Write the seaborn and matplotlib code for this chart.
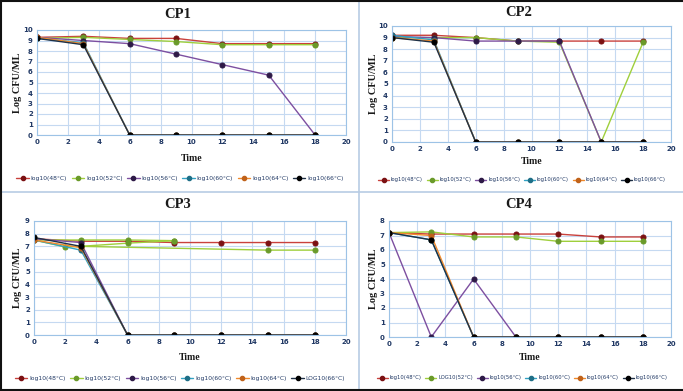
import pandas as pd
import matplotlib
matplotlib.use('Agg')
import matplotlib.pyplot as plt
import seaborn as sns
from matplotlib.lines import Line2D

# sampling times (h) used by every series
times = [0, 3, 6, 9, 12, 15, 18]

# CP1
cp1_48 = [9.3, 9.4, 9.2, 9.2, 8.7, 8.7, 8.7]
cp1_52 = [9.2, 9.3, 9.1, 8.9, 8.6, 8.6, 8.6]
cp1_56 = [9.3, 9.0, 8.7, 7.7, 6.7, 5.7, 0.0]
cp1_60 = [9.2, 8.8, 0.0, 0.0, 0.0, 0.0, 0.0]
cp1_64 = [9.3, 8.7, 0.0, 0.0, 0.0, 0.0, 0.0]
cp1_66 = [9.2, 8.6, 0.0, 0.0, 0.0, 0.0, 0.0]

# CP2
cp2_48 = [9.2, 9.2, 9.0, 8.7, 8.7, 8.7, 8.7]
cp2_52 = [9.0, 9.0, 9.0, 8.7, 8.6, 0.0, 8.6]
cp2_56 = [9.1, 9.0, 8.7, 8.7, 8.7, 0.0, 0.0]
cp2_60 = [9.2, 8.8, 0.0, 0.0, 0.0, 0.0, 0.0]
cp2_64 = [9.0, 8.7, 0.0, 0.0, 0.0, 0.0, 0.0]
cp2_66 = [9.0, 8.6, 0.0, 0.0, 0.0, 0.0, 0.0]

# CP3
cp3_48 = [7.6, 7.4, 7.4, 7.3, 7.3, 7.3, 7.3]
cp3_52_time = [0, 3, 6, 9]
cp3_52 = [7.5, 7.5, 7.5, 7.45]
cp3_52b_time = [0, 2, 3, 15, 18]
cp3_52b = [7.5, 6.95, 7.0, 6.7, 6.7]
cp3_52c_time = [3, 6, 9]
cp3_52c = [7.0, 7.25, 7.45]
cp3_56 = [7.6, 7.3, 0.0, 0.0, 0.0, 0.0, 0.0]
cp3_60 = [7.5, 6.7, 0.0, 0.0, 0.0, 0.0, 0.0]
cp3_64 = [7.5, 6.9, 0.0, 0.0, 0.0, 0.0, 0.0]
cp3_66 = [7.7, 7.0, 0.0, 0.0, 0.0, 0.0, 0.0]

# CP4
cp4_48 = [7.2, 7.1, 7.1, 7.1, 7.1, 6.9, 6.9]
cp4_52 = [7.2, 7.25, 6.9, 6.9, 6.6, 6.6, 6.6]
cp4_56 = [7.2, 0.0, 4.0, 0.0, 0.0, 0.0, 0.0]
cp4_60 = [7.2, 6.7, 0.0, 0.0, 0.0, 0.0, 0.0]
cp4_64 = [7.2, 7.0, 0.0, 0.0, 0.0, 0.0, 0.0]
cp4_66 = [7.2, 6.7, 0.0, 0.0, 0.0, 0.0, 0.0]

labels_std = ['log10(48°C)', 'log10(52°C)', 'log10(56°C)', 'log10(60°C)', 'log10(64°C)', 'log10(66°C)']
labels_cp3 = ['log10(48°C)', 'log10(52°C)', 'log10(56°C)', 'log10(60°C)', 'log10(64°C)', 'LOG10(66°C)']
labels_cp4 = ['log10(48°C)', 'LOG10(52°C)', 'log10(56°C)', 'log10(60°C)', 'log10(64°C)', 'log10(66°C)']

line_colors = ['#c9413c', '#9fcf3c', '#7d4fa0', '#31a2c4', '#f08a2c', '#1f3147']
marker_colors = ['#7b1113', '#6a9a2a', '#2e1a47', '#1f6f87', '#c0621a', '#000000']

GRID = '#c5d9f1'
SPINE = '#9dc3e6'
TICK = '#203864'
W, H = 683, 391

sns.set_theme(style='white')
plt.rcParams['font.family'] = ['DejaVu Sans']

fig = plt.figure(figsize=(W / 100, H / 100), dpi=100)


def px_axes(left, right, top, bottom):
    return fig.add_axes([left / W, 1 - bottom / H, (right - left) / W, (bottom - top) / H])


def draw_series(ax, x, y, i):
    df = pd.DataFrame({'Time': x, 'Log': y})
    sns.lineplot(data=df, x='Time', y='Log', ax=ax, color=line_colors[i], linewidth=1.0,
                 marker='o', markersize=3.6, markerfacecolor=marker_colors[i],
                 markeredgecolor=marker_colors[i], legend=False)


def panel(box, title, series, ymax, labels, title_xy, ylab_x, time_y, leg_xy, leg_fs,
          extra=None):
    ax = px_axes(*box)
    for i, vals in enumerate(series):
        if isinstance(vals, tuple):
            draw_series(ax, vals[0], vals[1], i)
        else:
            draw_series(ax, times, vals, i)
        if extra is not None and i == 1:
            for ex, ey in extra:
                draw_series(ax, ex, ey, 1)
    ax.set_xlim(0, 20)
    ax.set_ylim(0, ymax)
    ax.set_xticks(range(0, 21, 2))
    ax.set_yticks(range(0, ymax + 1))
    ax.grid(True, color=GRID, linewidth=0.8)
    ax.set_axisbelow(True)
    for s in ax.spines.values():
        s.set_color(SPINE)
        s.set_linewidth(0.8)
    ax.tick_params(axis='both', labelsize=5, colors=TICK, length=0, pad=3)
    for lab in ax.get_xticklabels() + ax.get_yticklabels():
        lab.set_fontweight('bold')
    ax.set_xlabel('')
    ax.set_ylabel('')
    fig.text(title_xy[0] / W, 1 - title_xy[1] / H, title, ha='center', va='center',
             family='Liberation Serif', fontweight='bold', fontsize=10.5, color='#1a1a1a')
    fig.text(ylab_x / W, 1 - ((box[2] + box[3]) / 2) / H, 'Log CFU/ML', rotation=90,
             ha='center', va='center', family='Liberation Serif', fontweight='bold',
             fontsize=7.5, color='#1a1a1a')
    fig.text(((box[0] + box[1]) / 2) / W, 1 - time_y / H, 'Time', ha='center', va='center',
             family='Liberation Serif', fontweight='bold', fontsize=7, color='#1a1a1a')
    handles = [Line2D([], [], color=line_colors[i], linewidth=1.0, marker='o', markersize=3,
                      markerfacecolor=marker_colors[i], markeredgecolor=marker_colors[i])
               for i in range(6)]
    fig.legend(handles, labels, loc='center', bbox_to_anchor=(leg_xy[0] / W, 1 - leg_xy[1] / H),
               ncol=6, frameon=False, fontsize=leg_fs, handlelength=2.1, handletextpad=0.3,
               columnspacing=0.75, labelcolor=TICK, borderpad=0.1)
    return ax


panel((37, 346, 30, 135), 'CP1', [cp1_48, cp1_52, cp1_56, cp1_60, cp1_64, cp1_66], 10,
      labels_std, (178, 14), 17, 158, (180, 178), 4.3)
panel((392, 671, 26, 142), 'CP2', [cp2_48, cp2_52, cp2_56, cp2_60, cp2_64, cp2_66], 10,
      labels_std, (519, 13), 374, 162, (522, 180), 3.8)
panel((34, 346, 221, 335), 'CP3',
      [cp3_48, (cp3_52_time, cp3_52), cp3_56, cp3_60, cp3_64, cp3_66], 9,
      labels_cp3, (178, 205), 17, 357, (180, 378), 4.3,
      extra=[(cp3_52b_time, cp3_52b), (cp3_52c_time, cp3_52c)])
panel((389, 671, 221, 337), 'CP4', [cp4_48, cp4_52, cp4_56, cp4_60, cp4_64, cp4_66], 8,
      labels_cp4, (519, 205), 374, 358, (522, 378), 3.8)

# panel dividers and outer frame
fig.add_artist(Line2D([359 / W, 359 / W], [0, 1], color='#b8cce4', linewidth=1.2))
fig.add_artist(Line2D([0, 1], [1 - 192 / H, 1 - 192 / H], color='#b8cce4', linewidth=1.2))
fig.add_artist(Line2D([0, 1], [0.998, 0.998], color='#111111', linewidth=1.5))
fig.add_artist(Line2D([0.002, 0.002], [0, 1], color='#111111', linewidth=1.5))
fig.add_artist(Line2D([0, 1], [0.003, 0.003], color='#111111', linewidth=1.5))

fig.savefig('out.png', dpi=100)
